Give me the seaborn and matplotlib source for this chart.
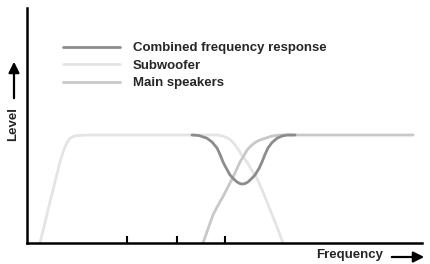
import matplotlib
matplotlib.use("Agg")
import matplotlib.pyplot as plt
import seaborn as sns
import pandas as pd

# curves (frequency in arbitrary units, level 1.0 = plateau)
combined_freq = [165, 172, 180, 185, 190, 193, 196, 200, 203, 207, 210, 213, 215,
                 218, 221, 225, 228, 232, 235, 238, 241, 245, 250, 255, 260, 268]
combined_level = [1.0, 0.995, 0.97, 0.935, 0.88, 0.82, 0.75, 0.68, 0.63, 0.59, 0.565, 0.55, 0.546,
                  0.55, 0.565, 0.6, 0.63, 0.69, 0.75, 0.82, 0.88, 0.93, 0.97, 0.99, 1.0, 1.0]

sub_freq = [13, 23, 33, 36, 38, 40, 43, 46, 50, 63, 190, 196, 200, 203, 207, 211,
            215, 220, 225, 231, 237, 243, 250, 256]
sub_level = [0.0, 0.38, 0.75, 0.84, 0.89, 0.93, 0.97, 0.985, 0.995, 1.0, 1.0, 0.99, 0.975, 0.96,
             0.92, 0.87, 0.81, 0.75, 0.67, 0.58, 0.45, 0.31, 0.15, 0.0]

main_freq = [176, 181, 186, 191, 196, 201, 206, 210, 213, 217, 220, 224, 228, 232,
             235, 240, 243, 248, 253, 386]
main_level = [0.0, 0.13, 0.26, 0.35, 0.43, 0.52, 0.61, 0.69, 0.75, 0.81, 0.86, 0.9, 0.93, 0.95,
              0.96, 0.975, 0.985, 0.995, 1.0, 1.0]

series_names = ["Combined frequency response", "Subwoofer", "Main speakers"]
series_colors = ["#8c8c8c", "#e4e4e4", "#c8c8c8"]
tick_positions = [100, 150, 198]

frames = []
for name, f, l in zip(series_names,
                      [combined_freq, sub_freq, main_freq],
                      [combined_level, sub_level, main_level]):
    frames.append(pd.DataFrame({"freq": f, "level": l, "series": name}))
df = pd.concat(frames, ignore_index=True)

sns.set_theme(style="white")
plt.rcParams["font.family"] = ["Liberation Sans", "DejaVu Sans"]

W, H = 431, 264
fig = plt.figure(figsize=(W / 100, H / 100), dpi=100)
ax = fig.add_axes([27 / W, (H - 243) / H, (422 - 27) / W, (243 - 8) / H])

sns.lineplot(data=df, x="freq", y="level", hue="series", hue_order=series_names,
             palette=series_colors, estimator=None, sort=False, linewidth=2, ax=ax)
ax.lines[0].set_zorder(5)

ax.set_xlim(0, 395)
ax.set_ylim(0, 235 / 108)
ax.set_xticks(tick_positions)
ax.set_xticklabels([])
ax.set_yticks([])
ax.set_xlabel("")
ax.set_ylabel("")
ax.tick_params(axis="x", direction="in", length=5, width=1.5, color="black", bottom=True)
for side in ["top", "right"]:
    ax.spines[side].set_visible(False)
for side in ["left", "bottom"]:
    ax.spines[side].set_color("black")
    ax.spines[side].set_linewidth(1.8)

ax.legend(loc="upper left", bbox_to_anchor=(63 / W, 1 - 42 / H), bbox_transform=fig.transFigure,
          frameon=False, prop={"weight": "bold", "size": 9.5}, handlelength=4.3,
          handletextpad=1.0, labelspacing=0.4, borderpad=0, borderaxespad=0)

fig.text(13 / W, 1 - 124 / H, "Level", rotation=90, ha="center", va="center",
         fontsize=9.5, fontweight="bold")
fig.text(383 / W, 9 / H, "Frequency", ha="right", va="center", fontsize=9.5, fontweight="bold")

arrow = dict(arrowstyle="-|>", color="black", lw=1.6, mutation_scale=16)
ax.annotate("", xy=(14, H - 59), xytext=(14, H - 101), xycoords="figure pixels",
            textcoords="figure pixels", arrowprops=arrow, annotation_clip=False)
ax.annotate("", xy=(427, 7), xytext=(389, 7), xycoords="figure pixels",
            textcoords="figure pixels", arrowprops=arrow, annotation_clip=False)

fig.savefig("out.png", dpi=100)
